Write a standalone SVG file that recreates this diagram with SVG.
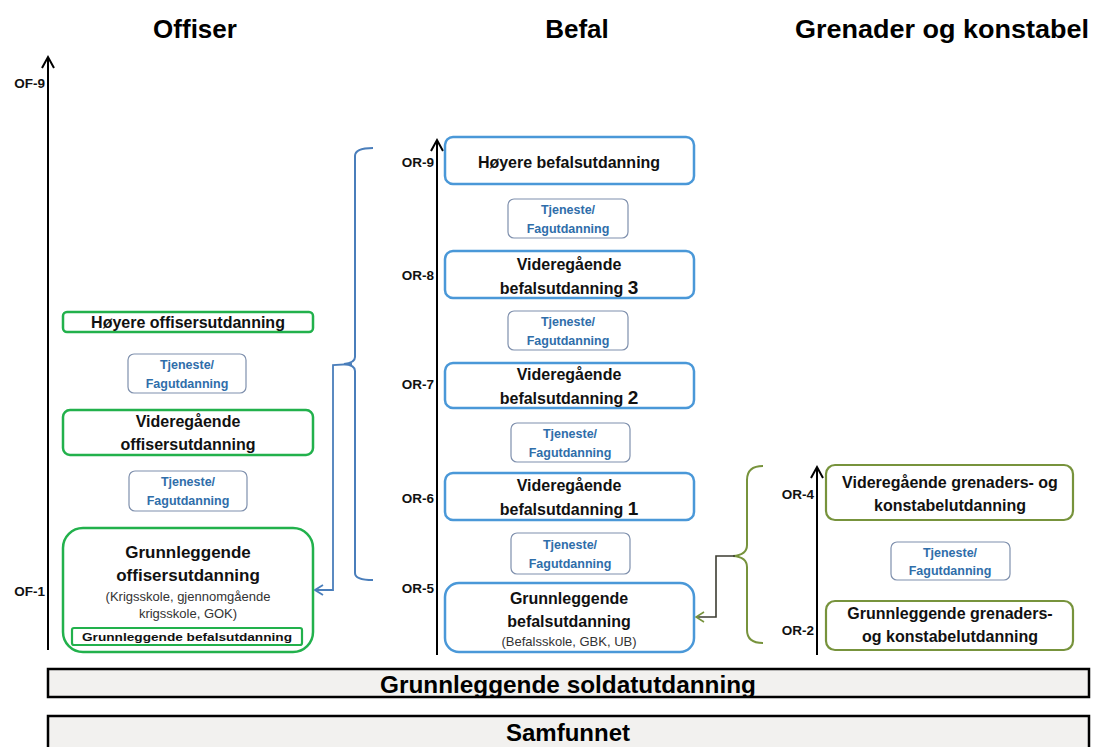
<svg xmlns="http://www.w3.org/2000/svg" width="1093" height="747" viewBox="0 0 1093 747">
<defs>
<marker id="blueHead" viewBox="0 0 10 12" refX="9" refY="6" markerWidth="10" markerHeight="12" markerUnits="userSpaceOnUse" orient="auto">
<path d="M1,1 L9,6 L1,11" fill="none" stroke="#4a7ebb" stroke-width="1.8"/>
</marker>
<marker id="greenHead" viewBox="0 0 10 12" refX="9" refY="6" markerWidth="10" markerHeight="12" markerUnits="userSpaceOnUse" orient="auto">
<path d="M1,1 L9,6 L1,11" fill="none" stroke="#77933c" stroke-width="1.6"/>
</marker>
</defs>
<style>
text{font-family:"Liberation Sans",Arial,sans-serif}
.hdr{font-size:26px;font-weight:bold;fill:#000}
.lab{font-size:16px;font-weight:bold;fill:#111;text-anchor:middle}
.sub{font-size:13px;fill:#333;text-anchor:middle}
.rank{font-size:13.5px;font-weight:bold;fill:#111;text-anchor:end}
.tj{font-size:12.5px;font-weight:bold;fill:#2f6eaa;text-anchor:middle}
.gbox{fill:#fff;stroke:#22b14c;stroke-width:2.5}
.bbox{fill:#fff;stroke:#4a98d8;stroke-width:2.5}
.obox{fill:#fff;stroke:#77933c;stroke-width:2.2}
.tbox{fill:#fff;stroke:#7f90ad;stroke-width:1.2}
.axis{stroke:#000;stroke-width:2;fill:none}
.bar{fill:#f2f1ef;stroke:#000;stroke-width:2.5}
.big{font-size:24px;font-weight:bold;fill:#000;text-anchor:middle}
</style>
<rect width="1093" height="747" fill="#fff"/>

<g id="headers">
<text class="hdr" x="195" y="38" text-anchor="middle">Offiser</text>
<text class="hdr" x="577" y="38" text-anchor="middle">Befal</text>
<text class="hdr" x="942" y="38" text-anchor="middle" textLength="294" lengthAdjust="spacingAndGlyphs">Grenader og konstabel</text>
</g>

<g id="axes">
<line class="axis" x1="48" y1="650" x2="48" y2="58"/>
<path class="axis" d="M42,68 L48,57 L54,68"/>
<line class="axis" x1="437" y1="655" x2="437" y2="141"/>
<path class="axis" d="M431,151 L437,140 L443,151"/>
<line class="axis" x1="817" y1="655" x2="817" y2="468"/>
<path class="axis" d="M811,478 L817,467 L823,478"/>
<text class="rank" x="45" y="88">OF-9</text>
<text class="rank" x="45" y="596">OF-1</text>
<text class="rank" x="434" y="167">OR-9</text>
<text class="rank" x="434" y="280">OR-8</text>
<text class="rank" x="434" y="389">OR-7</text>
<text class="rank" x="434" y="503">OR-6</text>
<text class="rank" x="434" y="593">OR-5</text>
<text class="rank" x="814" y="499">OR-4</text>
<text class="rank" x="814" y="635">OR-2</text>
</g>

<g id="offiser-hoyere">
<rect class="gbox" x="63" y="312" width="250" height="20" rx="4"/>
<text class="lab" x="188" y="328">Høyere offisersutdanning</text>
</g>
<g id="offiser-tj1">
<rect class="tbox" x="128" y="354" width="118" height="39" rx="6"/>
<text class="tj" x="187" y="369">Tjeneste/</text>
<text class="tj" x="187" y="388">Fagutdanning</text>
</g>
<g id="offiser-videregaende">
<rect class="gbox" x="63" y="410" width="250" height="45" rx="7"/>
<text class="lab" x="188" y="427">Videregående</text>
<text class="lab" x="188" y="450">offisersutdanning</text>
</g>
<g id="offiser-tj2">
<rect class="tbox" x="129" y="471" width="118" height="40" rx="6"/>
<text class="tj" x="188" y="486">Tjeneste/</text>
<text class="tj" x="188" y="505">Fagutdanning</text>
</g>
<g id="offiser-grunnleggende">
<rect class="gbox" x="63" y="528" width="250" height="124" rx="20"/>
<text class="lab" x="188" y="558" style="font-size:17px">Grunnleggende</text>
<text class="lab" x="188" y="581" style="font-size:17px">offisersutdanning</text>
<text class="sub" x="188" y="601">(Krigsskole, gjennomgående</text>
<text class="sub" x="188" y="618">krigsskole, GOK)</text>
<rect x="72" y="628" width="230" height="17" rx="2" fill="#fff" stroke="#22b14c" stroke-width="2.2"/>
<text x="187" y="641" text-anchor="middle" style="font-size:11px;font-weight:bold;fill:#111" textLength="210" lengthAdjust="spacingAndGlyphs">Grunnleggende befalsutdanning</text>
</g>

<g id="befal-hoyere">
<rect class="bbox" x="445" y="137" width="249" height="47" rx="8"/>
<text class="lab" x="569" y="168">Høyere befalsutdanning</text>
</g>
<g id="befal-tj1">
<rect class="tbox" x="508" y="199" width="120" height="39" rx="6"/>
<text class="tj" x="568" y="214">Tjeneste/</text>
<text class="tj" x="568" y="233">Fagutdanning</text>
</g>
<g id="befal-vid3">
<rect class="bbox" x="445" y="251" width="249" height="47" rx="8"/>
<text class="lab" x="569" y="270">Videregående</text>
<text class="lab" x="569" y="294">befalsutdanning <tspan style="font-size:19px">3</tspan></text>
</g>
<g id="befal-tj2">
<rect class="tbox" x="508" y="311" width="120" height="39" rx="6"/>
<text class="tj" x="568" y="326">Tjeneste/</text>
<text class="tj" x="568" y="345">Fagutdanning</text>
</g>
<g id="befal-vid2">
<rect class="bbox" x="445" y="363" width="249" height="45" rx="8"/>
<text class="lab" x="569" y="380">Videregående</text>
<text class="lab" x="569" y="404">befalsutdanning <tspan style="font-size:19px">2</tspan></text>
</g>
<g id="befal-tj3">
<rect class="tbox" x="511" y="423" width="119" height="39" rx="6"/>
<text class="tj" x="570" y="438">Tjeneste/</text>
<text class="tj" x="570" y="457">Fagutdanning</text>
</g>
<g id="befal-vid1">
<rect class="bbox" x="445" y="473" width="249" height="47" rx="8"/>
<text class="lab" x="569" y="491">Videregående</text>
<text class="lab" x="569" y="515">befalsutdanning <tspan style="font-size:19px">1</tspan></text>
</g>
<g id="befal-tj4">
<rect class="tbox" x="511" y="533" width="119" height="41" rx="6"/>
<text class="tj" x="570" y="549">Tjeneste/</text>
<text class="tj" x="570" y="568">Fagutdanning</text>
</g>
<g id="befal-grunnleggende">
<rect class="bbox" x="445" y="583" width="249" height="69" rx="14"/>
<text class="lab" x="569" y="604">Grunnleggende</text>
<text class="lab" x="569" y="627">befalsutdanning</text>
<text class="sub" x="569" y="646">(Befalsskole, GBK, UB)</text>
</g>

<g id="gk-videregaende">
<rect class="obox" x="826" y="465" width="247" height="55" rx="9"/>
<text class="lab" x="950" y="488">Videregående grenaders- og</text>
<text class="lab" x="950" y="511">konstabelutdanning</text>
</g>
<g id="gk-tj">
<rect class="tbox" x="891" y="542" width="119" height="38" rx="6"/>
<text class="tj" x="950" y="557">Tjeneste/</text>
<text class="tj" x="950" y="575">Fagutdanning</text>
</g>
<g id="gk-grunnleggende">
<rect class="obox" x="826" y="601" width="247" height="49" rx="9"/>
<text class="lab" x="950" y="619">Grunnleggende grenaders-</text>
<text class="lab" x="950" y="642">og konstabelutdanning</text>
</g>

<g id="soldat">
<rect class="bar" x="48" y="669" width="1041" height="28"/>
<text class="big" x="568" y="693" textLength="376" lengthAdjust="spacingAndGlyphs">Grunnleggende soldatutdanning</text>
</g>
<g id="samfunnet">
<rect class="bar" x="48" y="716" width="1041" height="40"/>
<text class="big" x="568" y="741">Samfunnet</text>
</g>

<g id="connectors">
<path d="M373,148 Q355,148 355,156 L355,357 Q355,363 344,364 Q355,365 355,371 L355,573 Q355,580 373,580" fill="none" stroke="#4a7ebb" stroke-width="2"/>
<path d="M352,364 L333,365 L333,590 L315,590" fill="none" stroke="#4a7ebb" stroke-width="1.8" marker-end="url(#blueHead)"/>
<path d="M763,466 Q747,466 747,480 L747,545 Q747,555 733,556 Q747,557 747,567 L747,630 Q747,643 763,643" fill="none" stroke="#77933c" stroke-width="2"/>
<path d="M735,556 L716,556 L716,617 L696,617" fill="none" stroke="#3d3d32" stroke-width="1.6" marker-end="url(#greenHead)"/>
</g>
</svg>
